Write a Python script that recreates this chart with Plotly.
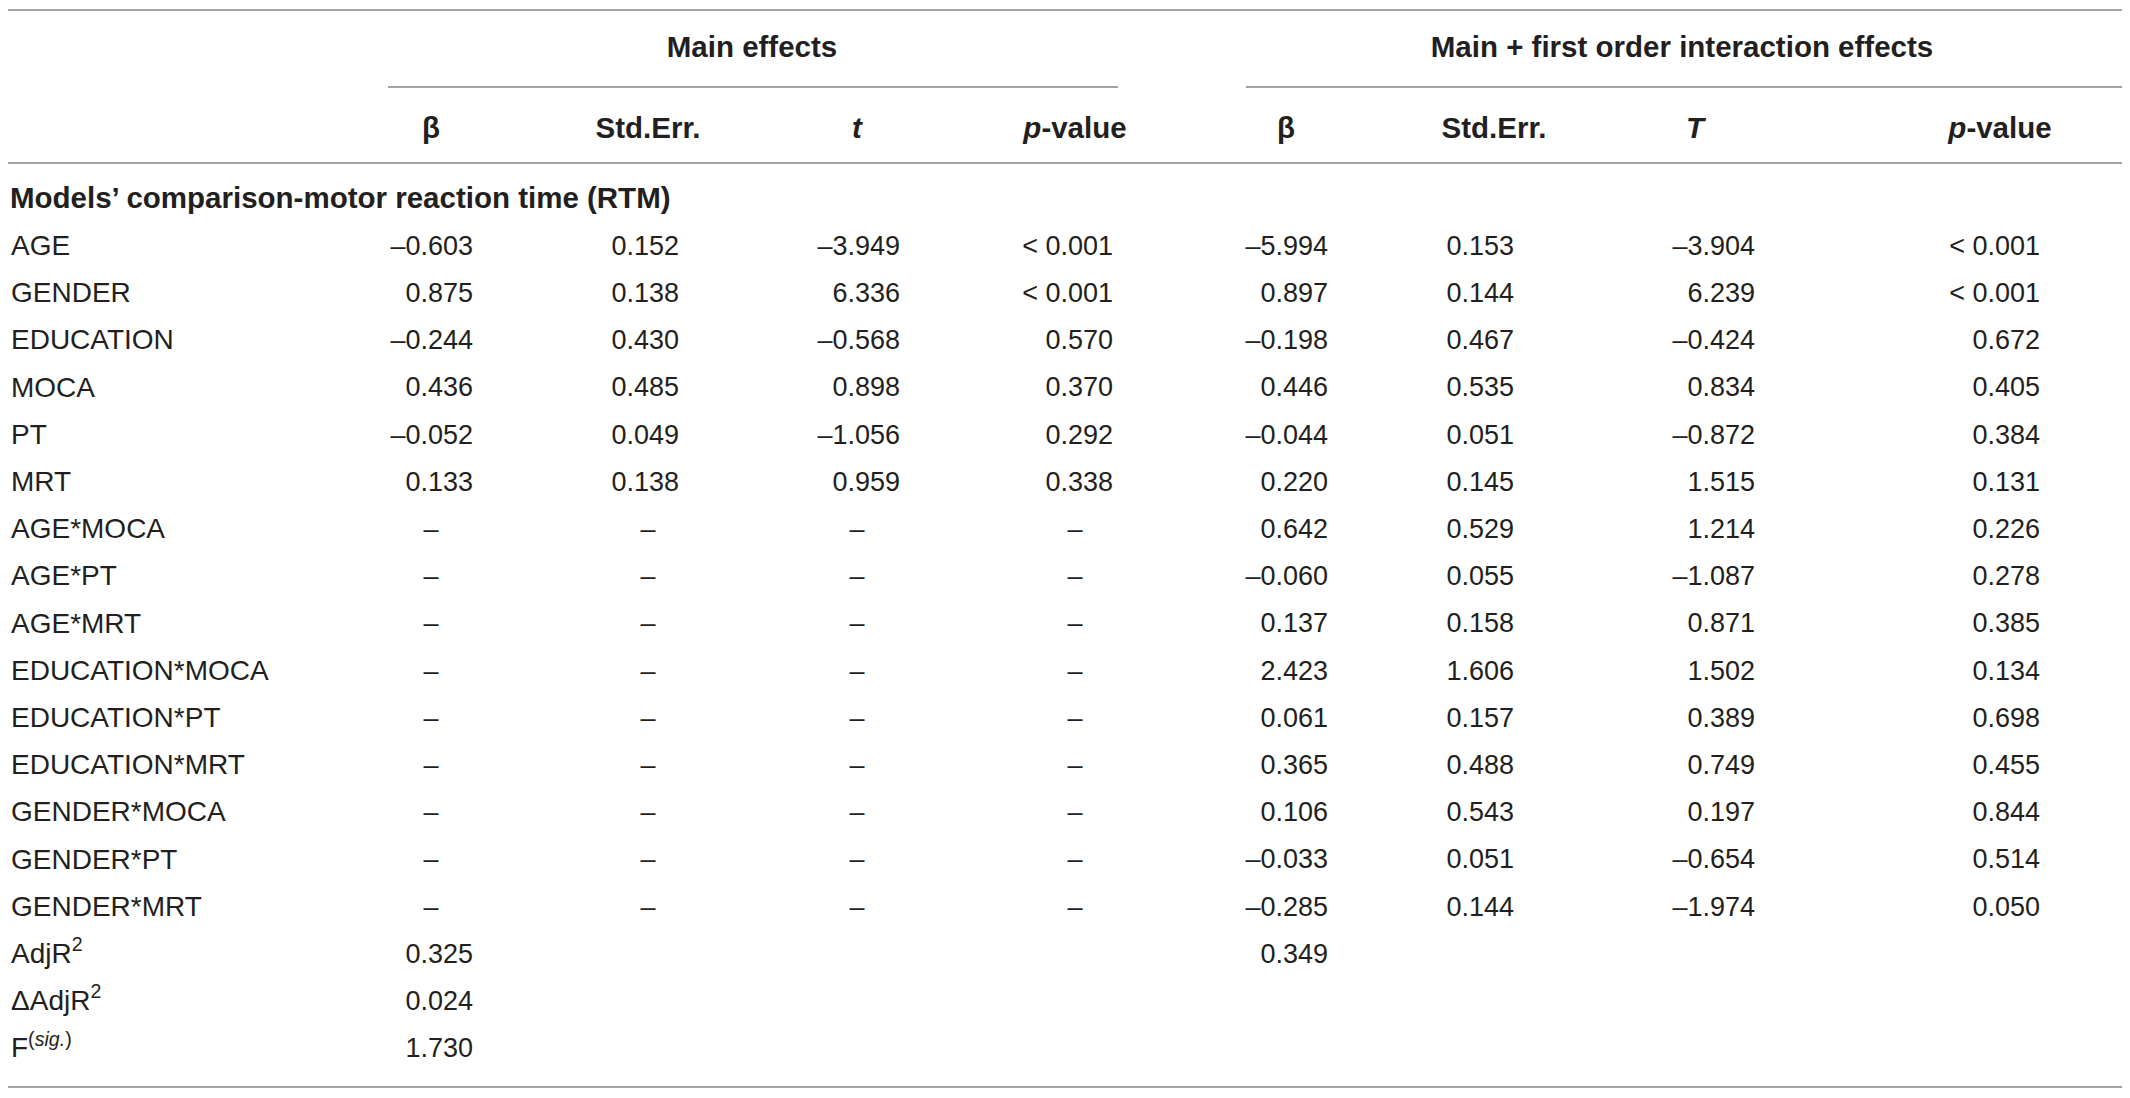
import plotly.graph_objects as go

# table content
row_labels = ["AGE", "GENDER", "EDUCATION", "MOCA", "PT", "MRT",
              "AGE*MOCA", "AGE*PT", "AGE*MRT",
              "EDUCATION*MOCA", "EDUCATION*PT", "EDUCATION*MRT",
              "GENDER*MOCA", "GENDER*PT", "GENDER*MRT",
              "AdjR<sup>2</sup>", "\u0394AdjR<sup>2</sup>", "F<sup>(<i>sig.</i>)</sup>"]

main_beta = [-0.603, 0.875, -0.244, 0.436, -0.052, 0.133]
main_se = [0.152, 0.138, 0.430, 0.485, 0.049, 0.138]
main_t = [-3.949, 6.336, -0.568, 0.898, -1.056, 0.959]
main_p = ["< 0.001", "< 0.001", "0.570", "0.370", "0.292", "0.338"]
main_fit = [0.325, 0.024, 1.730]   # AdjR2, dAdjR2, F(sig.)

int_beta = [-5.994, 0.897, -0.198, 0.446, -0.044, 0.220, 0.642, -0.060, 0.137,
            2.423, 0.061, 0.365, 0.106, -0.033, -0.285]
int_se = [0.153, 0.144, 0.467, 0.535, 0.051, 0.145, 0.529, 0.055, 0.158,
          1.606, 0.157, 0.488, 0.543, 0.051, 0.144]
int_t = [-3.904, 6.239, -0.424, 0.834, -0.872, 1.515, 1.214, -1.087, 0.871,
         1.502, 0.389, 0.749, 0.197, -0.654, -1.974]
int_p = ["< 0.001", "< 0.001", "0.672", "0.405", "0.384", "0.131", "0.226", "0.278", "0.385",
         "0.134", "0.698", "0.455", "0.844", "0.514", "0.050"]
int_fit = [0.349]

col_headers = ["<b>\u03b2</b>", "<b>Std.Err.</b>", "<b><i>t</i></b>", "<b><i>p</i>-value</b>",
               "<b>\u03b2</b>", "<b>Std.Err.</b>", "<b><i>T</i></b>", "<b><i>p</i>-value</b>"]
group_headers = ["<b>Main effects</b>", "<b>Main + first order interaction effects</b>"]
section_title = "<b>Models\u2019 comparison-motor reaction time (RTM)</b>"

W, H = 2130, 1098
OFF = 8   # default page margin around the plot div
FONT = "Liberation Sans, Arial, sans-serif"
FS_NUM, FS_LAB, FS_BOLD = 27, 28, 29.5
INK = "#231f20"
RULE = "#a3a3a3"

# layout grid (screen pixel units on the axes)
col_right = [473, 679, 900, 1113, 1328, 1514, 1755, 2040]
col_center = [431, 648, 857, 1075, 1286, 1494, 1695, 2000]
group_center = [752, 1682]
y_group, y_head, y_section = 50, 131, 201
y_row0, dy = 248, 47.2
row_y = [y_row0 + i * dy for i in range(len(row_labels))]


def fmt(v):
    return f"{v:.3f}".replace("-", "\u2013")


fig = go.Figure()


def add_text(xs, ys, texts, pos, size=FS_NUM):
    fig.add_trace(go.Scatter(x=xs, y=ys, text=texts, mode="text", textposition=pos,
                             textfont=dict(family=FONT, size=size, color=INK),
                             hoverinfo="skip", showlegend=False, cliponaxis=False))


# row labels
add_text([11] * len(row_labels), row_y, row_labels, "middle right", FS_LAB)
add_text([10], [y_section], [section_title], "middle right", FS_BOLD)

# headers
add_text(group_center, [y_group] * 2, group_headers, "middle center", FS_BOLD)
add_text(col_center, [y_head] * 8, col_headers, "middle center", FS_BOLD)

# main effects block
n_main = len(main_beta)
for j, col in enumerate([main_beta, main_se, main_t]):
    add_text([col_right[j]] * n_main, row_y[:n_main], [fmt(v) for v in col], "middle left")
add_text([col_right[3]] * n_main, row_y[:n_main], main_p, "middle left")
n_dash = len(int_beta) - n_main
for j in range(4):
    add_text([col_center[j]] * n_dash, row_y[n_main:len(int_beta)], ["\u2013"] * n_dash, "middle center")
add_text([col_right[0]] * 3, row_y[len(int_beta):], [fmt(v) for v in main_fit], "middle left")

# interaction block
n_int = len(int_beta)
for j, col in enumerate([int_beta, int_se, int_t]):
    add_text([col_right[4 + j]] * n_int, row_y[:n_int], [fmt(v) for v in col], "middle left")
add_text([col_right[7]] * n_int, row_y[:n_int], int_p, "middle left")
add_text([col_right[4]], row_y[n_int:n_int + 1], [fmt(v) for v in int_fit], "middle left")

# rules
rules = [(OFF, W, 10), (388, 1118, 87), (1246, W, 87), (OFF, W, 163), (OFF, W, 1087)]
for x0, x1, y in rules:
    fig.add_shape(type="line", x0=x0, x1=x1, y0=y, y1=y, xref="x", yref="y",
                  line=dict(color=RULE, width=2))

fig.update_layout(
    width=W - OFF, height=H - OFF,
    margin=dict(l=0, r=0, t=0, b=0),
    paper_bgcolor="white", plot_bgcolor="white",
    xaxis=dict(range=[OFF, W], visible=False, fixedrange=True),
    yaxis=dict(range=[H, OFF], visible=False, fixedrange=True),
)

fig.write_html("out.html")
